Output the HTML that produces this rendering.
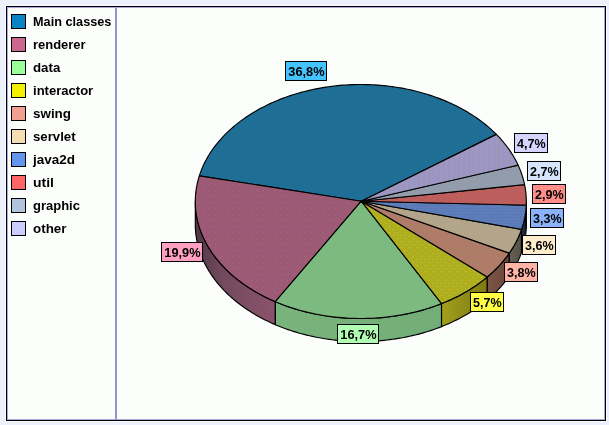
<!DOCTYPE html>
<html><head><meta charset="utf-8"><title>Pie chart</title>
<style>
html,body{margin:0;padding:0;background:#EDF1FB;}
body{width:609px;height:425px;overflow:hidden;}
svg{will-change:transform;}
svg text{font-family:"Liberation Sans",sans-serif;font-weight:bold;fill:#000;}
.lg{font-size:12px;}
.lb{font-size:12.5px;}
</style></head><body>
<svg width="609" height="425" viewBox="0 0 609 425" style="display:block">
<defs>
<linearGradient id="sg1" gradientUnits="userSpaceOnUse" x1="195.3" y1="0" x2="275.4" y2="0"><stop offset="0" stop-color="#503745"/><stop offset="0.35" stop-color="#734A5F"/><stop offset="1" stop-color="#8A536C"/></linearGradient>
<linearGradient id="sg2" gradientUnits="userSpaceOnUse" x1="275.4" y1="0" x2="441.5" y2="0"><stop offset="0" stop-color="#78B47C"/><stop offset="1" stop-color="#73AD77"/></linearGradient>
<linearGradient id="sg3" gradientUnits="userSpaceOnUse" x1="441.5" y1="0" x2="487.3" y2="0"><stop offset="0" stop-color="#A39F1C"/><stop offset="1" stop-color="#7E7A12"/></linearGradient>
<linearGradient id="sg4" gradientUnits="userSpaceOnUse" x1="487.3" y1="0" x2="509.3" y2="0"><stop offset="0" stop-color="#7E5547"/><stop offset="1" stop-color="#694539"/></linearGradient>
<linearGradient id="sg5" gradientUnits="userSpaceOnUse" x1="509.3" y1="0" x2="521.5" y2="0"><stop offset="0" stop-color="#686152"/><stop offset="1" stop-color="#545045"/></linearGradient>
<linearGradient id="sg6" gradientUnits="userSpaceOnUse" x1="521.5" y1="0" x2="526.2" y2="0"><stop offset="0" stop-color="#26344F"/><stop offset="1" stop-color="#161F33"/></linearGradient>
<linearGradient id="sg7" gradientUnits="userSpaceOnUse" x1="526.2" y1="0" x2="526.3" y2="0"><stop offset="0" stop-color="#5A2C2C"/><stop offset="1" stop-color="#5A2C2C"/></linearGradient>
<pattern id="p1" patternUnits="userSpaceOnUse" width="6" height="6"><rect width="6" height="6" fill="#9E5878"/><rect x="1" y="1" width="1" height="1" fill="#8E6256"/><rect x="4" y="1" width="1" height="1" fill="#8E6256"/><rect x="2" y="4" width="1" height="1" fill="#8E6256"/><rect x="5" y="4" width="1" height="1" fill="#A86A72"/></pattern>
<pattern id="p3" patternUnits="userSpaceOnUse" width="8" height="6"><rect width="8" height="6" fill="#AFAE1E"/><rect x="1" y="1" width="1" height="1" fill="#C3C348"/><rect x="5" y="4" width="1" height="1" fill="#C3C348"/></pattern>
<pattern id="p4" patternUnits="userSpaceOnUse" width="6" height="6"><rect width="6" height="6" fill="#AE7D65"/><rect x="1" y="1" width="1" height="1" fill="#BC7278"/><rect x="4" y="1" width="1" height="1" fill="#BC7278"/><rect x="2" y="4" width="1" height="1" fill="#BC7278"/><rect x="5" y="4" width="1" height="1" fill="#A87690"/></pattern>
<pattern id="p6" patternUnits="userSpaceOnUse" width="6" height="6"><rect width="6" height="6" fill="#5D7DBB"/><rect x="1" y="1" width="1" height="1" fill="#5270A8"/><rect x="4" y="1" width="1" height="1" fill="#5270A8"/><rect x="2" y="4" width="1" height="1" fill="#5270A8"/><rect x="5" y="4" width="1" height="1" fill="#5270A8"/></pattern>
<pattern id="p7" patternUnits="userSpaceOnUse" width="8" height="4"><rect width="8" height="4" fill="#BE5F5E"/><rect x="1" y="1" width="1" height="1" fill="#B05A5E"/><rect x="5" y="3" width="1" height="1" fill="#B05A5E"/></pattern>
<pattern id="p8" patternUnits="userSpaceOnUse" width="6" height="6"><rect width="6" height="6" fill="#949CAA"/><rect x="1" y="1" width="1" height="1" fill="#86A0C2"/><rect x="4" y="1" width="1" height="1" fill="#86A0C2"/><rect x="2" y="4" width="1" height="1" fill="#86A0C2"/><rect x="5" y="4" width="1" height="1" fill="#86A0C2"/></pattern>
<pattern id="p9" patternUnits="userSpaceOnUse" width="10" height="4"><rect width="10" height="4" fill="#9B98C8"/><rect x="1" y="1" width="1" height="1" fill="#D08A70"/><rect x="6" y="3" width="1" height="1" fill="#D08A70"/><rect x="3" y="2" width="1" height="1" fill="#9090B8"/><rect x="8" y="0" width="1" height="1" fill="#9090B8"/><rect x="4" y="0" width="1" height="1" fill="#9090B8"/><rect x="9" y="2" width="1" height="1" fill="#9090B8"/></pattern>
<pattern id="p20" patternUnits="userSpaceOnUse" width="8" height="4"><rect width="8" height="4" fill="#FF8C84"/><rect x="1" y="1" width="1" height="1" fill="#FFB0D8"/><rect x="5" y="3" width="1" height="1" fill="#FFB0D8"/></pattern>
<pattern id="p21" patternUnits="userSpaceOnUse" width="6" height="4"><rect width="6" height="4" fill="#8CB4FC"/><rect x="1" y="1" width="1" height="1" fill="#80A6EA"/><rect x="4" y="3" width="1" height="1" fill="#80A6EA"/></pattern>
</defs>
<rect width="609" height="425" fill="#EDF1FB"/>
<rect x="5.5" y="5.5" width="601" height="416" fill="none" stroke="#F9FBFE"/>
<rect x="6.5" y="6.5" width="599" height="414" fill="#FCFEFB" stroke="#000"/>
<rect x="7.5" y="7.5" width="597" height="412" fill="none" stroke="#ABA6DE"/>
<rect x="115" y="8" width="2" height="411" fill="#9893CF"/>
<g opacity="0.999">
<rect x="11.5" y="14.5" width="14" height="14" fill="#0982C6" stroke="#000"/>
<text x="33" y="26" textLength="78.4" lengthAdjust="spacingAndGlyphs" class="lg">Main classes</text>
<rect x="11.5" y="37.5" width="14" height="14" fill="#CC6690" stroke="#000"/>
<text x="33" y="49" textLength="52.5" lengthAdjust="spacingAndGlyphs" class="lg">renderer</text>
<rect x="11.5" y="60.5" width="14" height="14" fill="#99FF99" stroke="#000"/>
<text x="33" y="72" textLength="27.3" lengthAdjust="spacingAndGlyphs" class="lg">data</text>
<rect x="11.5" y="83.5" width="14" height="14" fill="#F0F000" stroke="#000"/>
<text x="33" y="95" textLength="60.2" lengthAdjust="spacingAndGlyphs" class="lg">interactor</text>
<rect x="11.5" y="106.5" width="14" height="14" fill="#F0A090" stroke="#000"/>
<text x="33" y="118" textLength="38.0" lengthAdjust="spacingAndGlyphs" class="lg">swing</text>
<rect x="11.5" y="129.5" width="14" height="14" fill="#F5DEB3" stroke="#000"/>
<text x="33" y="141" textLength="42.6" lengthAdjust="spacingAndGlyphs" class="lg">servlet</text>
<rect x="11.5" y="152.5" width="14" height="14" fill="#6495ED" stroke="#000"/>
<text x="33" y="164" textLength="42.0" lengthAdjust="spacingAndGlyphs" class="lg">java2d</text>
<rect x="11.5" y="175.5" width="14" height="14" fill="#FF6666" stroke="#000"/>
<text x="33" y="187" textLength="20.9" lengthAdjust="spacingAndGlyphs" class="lg">util</text>
<rect x="11.5" y="198.5" width="14" height="14" fill="#B0C4DE" stroke="#000"/>
<text x="33" y="210" textLength="46.9" lengthAdjust="spacingAndGlyphs" class="lg">graphic</text>
<rect x="11.5" y="221.5" width="14" height="14" fill="#CCCCFF" stroke="#000"/>
<text x="33" y="233" textLength="33.5" lengthAdjust="spacingAndGlyphs" class="lg">other</text>
</g>
<polygon points="195.30,201.50 195.33,203.57 195.40,205.65 195.53,207.72 195.72,209.79 195.95,211.86 196.24,213.92 196.57,215.98 196.96,218.04 197.40,220.09 197.89,222.14 198.44,224.17 199.03,226.21 199.68,228.23 200.37,230.24 201.12,232.25 201.91,234.25 202.76,236.23 203.66,238.21 204.60,240.17 205.60,242.12 206.64,244.06 207.73,245.99 208.87,247.90 210.06,249.80 211.29,251.68 212.58,253.55 213.90,255.39 215.28,257.23 216.70,259.04 218.16,260.84 219.68,262.62 221.23,264.38 222.83,266.12 224.47,267.84 226.16,269.53 227.88,271.21 229.65,272.87 231.46,274.50 233.31,276.11 235.21,277.69 237.14,279.26 239.11,280.79 241.11,282.31 243.16,283.79 245.24,285.26 247.36,286.69 249.51,288.10 251.70,289.48 253.93,290.83 256.18,292.16 258.47,293.46 260.80,294.72 263.15,295.96 265.53,297.17 267.95,298.35 270.39,299.50 272.86,300.62 275.36,301.70 275.36,324.70 272.86,323.62 270.39,322.50 267.95,321.35 265.53,320.17 263.15,318.96 260.80,317.72 258.47,316.46 256.18,315.16 253.93,313.83 251.70,312.48 249.51,311.10 247.36,309.69 245.24,308.26 243.16,306.79 241.11,305.31 239.11,303.79 237.14,302.26 235.21,300.69 233.31,299.11 231.46,297.50 229.65,295.87 227.88,294.21 226.16,292.53 224.47,290.84 222.83,289.12 221.23,287.38 219.68,285.62 218.16,283.84 216.70,282.04 215.28,280.23 213.90,278.39 212.58,276.55 211.29,274.68 210.06,272.80 208.87,270.90 207.73,268.99 206.64,267.06 205.60,265.12 204.60,263.17 203.66,261.21 202.76,259.23 201.91,257.25 201.12,255.25 200.37,253.24 199.68,251.23 199.03,249.21 198.44,247.17 197.89,245.14 197.40,243.09 196.96,241.04 196.57,238.98 196.24,236.92 195.95,234.86 195.72,232.79 195.53,230.72 195.40,228.65 195.33,226.57 195.30,224.50" fill="url(#sg1)" stroke="#000" stroke-width="1.15" stroke-linejoin="round"/>
<polygon points="275.36,301.70 277.86,302.75 280.39,303.76 282.93,304.74 285.51,305.69 288.10,306.61 290.72,307.49 293.36,308.35 296.02,309.16 298.70,309.95 301.40,310.70 304.12,311.42 306.85,312.11 309.60,312.76 312.37,313.38 315.15,313.96 317.95,314.51 320.76,315.02 323.58,315.50 326.42,315.95 329.26,316.36 332.11,316.73 334.97,317.07 337.85,317.37 340.72,317.64 343.61,317.87 346.49,318.06 349.39,318.22 352.28,318.35 355.18,318.43 358.08,318.48 360.99,318.50 363.89,318.48 366.79,318.42 369.69,318.33 372.58,318.20 375.48,318.04 378.37,317.84 381.25,317.60 384.12,317.33 386.99,317.03 389.86,316.68 392.71,316.30 395.55,315.89 398.38,315.44 401.20,314.96 404.01,314.44 406.80,313.89 409.59,313.30 412.35,312.68 415.10,312.02 417.83,311.33 420.55,310.61 423.25,309.85 425.92,309.06 428.58,308.24 431.22,307.38 433.83,306.49 436.43,305.57 439.00,304.62 441.54,303.63 441.54,326.63 439.00,327.62 436.43,328.57 433.83,329.49 431.22,330.38 428.58,331.24 425.92,332.06 423.25,332.85 420.55,333.61 417.83,334.33 415.10,335.02 412.35,335.68 409.59,336.30 406.80,336.89 404.01,337.44 401.20,337.96 398.38,338.44 395.55,338.89 392.71,339.30 389.86,339.68 386.99,340.03 384.12,340.33 381.25,340.60 378.37,340.84 375.48,341.04 372.58,341.20 369.69,341.33 366.79,341.42 363.89,341.48 360.99,341.50 358.08,341.48 355.18,341.43 352.28,341.35 349.39,341.22 346.49,341.06 343.61,340.87 340.72,340.64 337.85,340.37 334.97,340.07 332.11,339.73 329.26,339.36 326.42,338.95 323.58,338.50 320.76,338.02 317.95,337.51 315.15,336.96 312.37,336.38 309.60,335.76 306.85,335.11 304.12,334.42 301.40,333.70 298.70,332.95 296.02,332.16 293.36,331.35 290.72,330.49 288.10,329.61 285.51,328.69 282.93,327.74 280.39,326.76 277.86,325.75 275.36,324.70" fill="url(#sg2)" stroke="#000" stroke-width="1.15" stroke-linejoin="round"/>
<polygon points="441.54,303.63 444.13,302.59 446.69,301.51 449.23,300.40 451.74,299.26 454.21,298.08 456.66,296.88 459.07,295.64 461.46,294.37 463.81,293.07 466.13,291.75 468.41,290.39 470.66,289.01 472.87,287.59 475.05,286.15 477.19,284.68 479.29,283.19 481.35,281.66 483.37,280.11 485.36,278.54 487.30,276.94 487.30,299.94 485.36,301.54 483.37,303.11 481.35,304.66 479.29,306.19 477.19,307.68 475.05,309.15 472.87,310.59 470.66,312.01 468.41,313.39 466.13,314.75 463.81,316.07 461.46,317.37 459.07,318.64 456.66,319.88 454.21,321.08 451.74,322.26 449.23,323.40 446.69,324.51 444.13,325.59 441.54,326.63" fill="url(#sg3)" stroke="#000" stroke-width="1.15" stroke-linejoin="round"/>
<polygon points="487.30,276.94 489.28,275.25 491.21,273.54 493.09,271.80 494.93,270.04 496.73,268.25 498.47,266.44 500.17,264.60 501.81,262.75 503.41,260.87 504.96,258.97 506.46,257.05 507.90,255.11 509.30,253.16 509.30,276.16 507.90,278.11 506.46,280.05 504.96,281.97 503.41,283.87 501.81,285.75 500.17,287.60 498.47,289.44 496.73,291.25 494.93,293.04 493.09,294.80 491.21,296.54 489.28,298.25 487.30,299.94" fill="url(#sg4)" stroke="#000" stroke-width="1.15" stroke-linejoin="round"/>
<polygon points="509.30,253.16 510.59,251.25 511.83,249.34 513.03,247.40 514.18,245.46 515.27,243.49 516.32,241.52 517.31,239.53 518.26,237.53 519.15,235.51 519.99,233.49 520.78,231.45 521.52,229.41 521.52,252.41 520.78,254.45 519.99,256.49 519.15,258.51 518.26,260.53 517.31,262.53 516.32,264.52 515.27,266.49 514.18,268.46 513.03,270.40 511.83,272.34 510.59,274.25 509.30,276.16" fill="url(#sg5)" stroke="#000" stroke-width="1.15" stroke-linejoin="round"/>
<polygon points="521.52,229.41 522.19,227.42 522.80,225.43 523.37,223.42 523.89,221.41 524.35,219.40 524.77,217.38 525.14,215.35 525.45,213.32 525.72,211.29 525.94,209.25 526.10,207.22 526.22,205.18 526.22,228.18 526.10,230.22 525.94,232.25 525.72,234.29 525.45,236.32 525.14,238.35 524.77,240.38 524.35,242.40 523.89,244.41 523.37,246.42 522.80,248.43 522.19,250.42 521.52,252.41" fill="url(#sg6)" stroke="#000" stroke-width="1.15" stroke-linejoin="round"/>
<polygon points="526.22,205.18 526.30,201.50 526.30,224.50 526.22,228.18" fill="url(#sg7)" stroke="#000" stroke-width="1.15" stroke-linejoin="round"/>
<polygon points="361.30,201.20 496.37,134.39 494.69,132.72 492.96,131.08 491.20,129.45 489.40,127.85 487.56,126.27 485.67,124.72 483.75,123.18 481.80,121.67 479.80,120.19 477.77,118.73 475.71,117.30 473.60,115.89 471.47,114.50 469.30,113.15 467.09,111.82 464.86,110.52 462.59,109.25 460.29,108.00 457.96,106.78 455.60,105.60 453.21,104.44 450.80,103.31 448.35,102.21 445.88,101.14 443.38,100.11 440.86,99.10 438.31,98.13 435.74,97.18 433.15,96.27 430.54,95.39 427.90,94.55 425.24,93.73 422.56,92.95 419.87,92.21 417.15,91.49 414.42,90.81 411.67,90.16 408.91,89.55 406.13,88.97 403.34,88.43 400.53,87.92 397.72,87.45 394.89,87.01 392.05,86.60 389.20,86.24 386.34,85.90 383.48,85.60 380.60,85.34 377.73,85.11 374.84,84.92 371.96,84.77 369.06,84.65 366.17,84.56 363.27,84.51 360.38,84.50 357.48,84.52 354.59,84.58 351.69,84.68 348.80,84.81 345.92,84.97 343.04,85.18 340.16,85.41 337.29,85.69 334.43,86.00 331.57,86.34 328.73,86.72 325.89,87.13 323.06,87.58 320.25,88.07 317.45,88.59 314.66,89.14 311.89,89.73 309.13,90.35 306.38,91.01 303.66,91.70 300.95,92.42 298.26,93.18 295.58,93.97 292.93,94.79 290.30,95.65 287.69,96.53 285.11,97.45 282.54,98.41 280.00,99.39 277.49,100.41 275.00,101.45 272.53,102.53 270.10,103.64 267.69,104.77 265.31,105.94 262.96,107.14 260.64,108.36 258.35,109.61 256.09,110.90 253.86,112.20 251.67,113.54 249.51,114.90 247.38,116.29 245.29,117.71 243.23,119.15 241.21,120.62 239.23,122.11 237.28,123.63 235.37,125.17 233.50,126.73 231.67,128.32 229.88,129.93 228.13,131.56 226.42,133.21 224.75,134.88 223.12,136.57 221.53,138.29 219.99,140.02 218.49,141.77 217.03,143.54 215.62,145.33 214.25,147.13 212.93,148.95 211.65,150.79 210.42,152.64 209.23,154.51 208.09,156.39 207.00,158.29 205.95,160.20 204.96,162.12 204.01,164.05 203.10,166.00 202.25,167.96 201.44,169.92 200.68,171.90 199.98,173.88 199.32,175.88" fill="#1E6E96" stroke="#000" stroke-width="1.15" stroke-linejoin="round"/>
<polygon points="361.30,201.20 199.32,175.88 198.70,177.89 198.14,179.91 197.63,181.94 197.17,183.97 196.76,186.01 196.40,188.05 196.09,190.10 195.83,192.15 195.62,194.20 195.47,196.25 195.36,198.31 195.31,200.37 195.31,202.43 195.35,204.49 195.45,206.54 195.60,208.60 195.81,210.65 196.06,212.70 196.36,214.75 196.72,216.79 197.13,218.83 197.58,220.86 198.09,222.89 198.65,224.91 199.25,226.92 199.91,228.93 200.62,230.93 201.38,232.91 202.18,234.89 203.04,236.86 203.94,238.82 204.90,240.76 205.90,242.69 206.95,244.61 208.04,246.52 209.19,248.41 210.38,250.29 211.62,252.16 212.90,254.00 214.23,255.83 215.60,257.65 217.02,259.45 218.49,261.23 220.00,262.99 221.55,264.73 223.14,266.45 224.78,268.15 226.46,269.83 228.18,271.49 229.94,273.13 231.75,274.75 233.59,276.34 235.47,277.91 237.39,279.46 239.35,280.98 241.35,282.48 243.38,283.95 245.45,285.40 247.56,286.82 249.70,288.22 251.87,289.59 254.08,290.93 256.32,292.24 258.60,293.53 260.90,294.78 263.24,296.01 265.61,297.21 268.00,298.38 270.43,299.52 272.88,300.63 275.36,301.70" fill="url(#p1)" stroke="#000" stroke-width="1.15" stroke-linejoin="round"/>
<polygon points="361.30,201.20 275.36,301.70 277.86,302.75 280.39,303.76 282.93,304.74 285.51,305.69 288.10,306.61 290.72,307.49 293.36,308.35 296.02,309.16 298.70,309.95 301.40,310.70 304.12,311.42 306.85,312.11 309.60,312.76 312.37,313.38 315.15,313.96 317.95,314.51 320.76,315.02 323.58,315.50 326.42,315.95 329.26,316.36 332.11,316.73 334.97,317.07 337.85,317.37 340.72,317.64 343.61,317.87 346.49,318.06 349.39,318.22 352.28,318.35 355.18,318.43 358.08,318.48 360.99,318.50 363.89,318.48 366.79,318.42 369.69,318.33 372.58,318.20 375.48,318.04 378.37,317.84 381.25,317.60 384.12,317.33 386.99,317.03 389.86,316.68 392.71,316.30 395.55,315.89 398.38,315.44 401.20,314.96 404.01,314.44 406.80,313.89 409.59,313.30 412.35,312.68 415.10,312.02 417.83,311.33 420.55,310.61 423.25,309.85 425.92,309.06 428.58,308.24 431.22,307.38 433.83,306.49 436.43,305.57 439.00,304.62 441.54,303.63" fill="#7DBA80" stroke="#000" stroke-width="1.15" stroke-linejoin="round"/>
<polygon points="361.30,201.20 441.54,303.63 444.13,302.59 446.69,301.51 449.23,300.40 451.74,299.26 454.21,298.08 456.66,296.88 459.07,295.64 461.46,294.37 463.81,293.07 466.13,291.75 468.41,290.39 470.66,289.01 472.87,287.59 475.05,286.15 477.19,284.68 479.29,283.19 481.35,281.66 483.37,280.11 485.36,278.54 487.30,276.94" fill="url(#p3)" stroke="#000" stroke-width="1.15" stroke-linejoin="round"/>
<polygon points="361.30,201.20 487.30,276.94 489.28,275.25 491.21,273.54 493.09,271.80 494.93,270.04 496.73,268.25 498.47,266.44 500.17,264.60 501.81,262.75 503.41,260.87 504.96,258.97 506.46,257.05 507.90,255.11 509.30,253.16" fill="url(#p4)" stroke="#000" stroke-width="1.15" stroke-linejoin="round"/>
<polygon points="361.30,201.20 509.30,253.16 510.59,251.25 511.83,249.34 513.03,247.40 514.18,245.46 515.27,243.49 516.32,241.52 517.31,239.53 518.26,237.53 519.15,235.51 519.99,233.49 520.78,231.45 521.52,229.41" fill="#B3A58A" stroke="#000" stroke-width="1.15" stroke-linejoin="round"/>
<polygon points="361.30,201.20 521.52,229.41 522.19,227.42 522.80,225.43 523.37,223.42 523.89,221.41 524.35,219.40 524.77,217.38 525.14,215.35 525.45,213.32 525.72,211.29 525.94,209.25 526.10,207.22 526.22,205.18" fill="url(#p6)" stroke="#000" stroke-width="1.15" stroke-linejoin="round"/>
<polygon points="361.30,201.20 526.22,205.18 526.28,203.11 526.30,201.05 526.26,198.99 526.17,196.93 526.03,194.87 525.84,192.81 525.60,190.75 525.31,188.70 524.96,186.65 524.57,184.61" fill="url(#p7)" stroke="#000" stroke-width="1.15" stroke-linejoin="round"/>
<polygon points="361.30,201.20 524.57,184.61 524.08,182.41 523.54,180.22 522.94,178.04 522.28,175.87 521.56,173.70 520.78,171.55 519.95,169.40 519.06,167.27 518.11,165.15" fill="url(#p8)" stroke="#000" stroke-width="1.15" stroke-linejoin="round"/>
<polygon points="361.30,201.20 518.11,165.15 517.14,163.11 516.11,161.08 515.03,159.06 513.89,157.06 512.71,155.07 511.47,153.10 510.19,151.14 508.85,149.20 507.46,147.28 506.02,145.38 504.53,143.50 502.99,141.63 501.41,139.79 499.78,137.97 498.10,136.17 496.37,134.39" fill="url(#p9)" stroke="#000" stroke-width="1.15" stroke-linejoin="round"/>
<g opacity="0.999">
<rect x="285.5" y="61.5" width="41" height="19" fill="#45C3FF" stroke="#000"/>
<text x="288.3" y="76" textLength="36.2" lengthAdjust="spacingAndGlyphs" class="lb">36,8%</text>
<rect x="161.5" y="242.5" width="41" height="19" fill="#FFA0C3" stroke="#000"/>
<text x="164.3" y="257" textLength="36.2" lengthAdjust="spacingAndGlyphs" class="lb">19,9%</text>
<rect x="337.5" y="324.5" width="41" height="19" fill="#B0FCB2" stroke="#000"/>
<text x="340.3" y="339" textLength="36.2" lengthAdjust="spacingAndGlyphs" class="lb">16,7%</text>
<rect x="470.5" y="292.5" width="33" height="19" fill="#FFFF45" stroke="#000"/>
<text x="473.1" y="307" textLength="28.6" lengthAdjust="spacingAndGlyphs" class="lb">5,7%</text>
<rect x="504.5" y="262.5" width="33" height="19" fill="#FFB4A5" stroke="#000"/>
<text x="507.1" y="277" textLength="28.6" lengthAdjust="spacingAndGlyphs" class="lb">3,8%</text>
<rect x="522.5" y="235.5" width="33" height="19" fill="#FFECCC" stroke="#000"/>
<text x="525.1" y="250" textLength="28.6" lengthAdjust="spacingAndGlyphs" class="lb">3,6%</text>
<rect x="530.5" y="208.5" width="33" height="19" fill="url(#p21)" stroke="#000"/>
<text x="533.1" y="223" textLength="28.6" lengthAdjust="spacingAndGlyphs" class="lb">3,3%</text>
<rect x="532.5" y="184.5" width="33" height="19" fill="url(#p20)" stroke="#000"/>
<text x="535.1" y="199" textLength="28.6" lengthAdjust="spacingAndGlyphs" class="lb">2,9%</text>
<rect x="527.5" y="161.5" width="33" height="19" fill="#D6E4FC" stroke="#000"/>
<text x="530.1" y="176" textLength="28.6" lengthAdjust="spacingAndGlyphs" class="lb">2,7%</text>
<rect x="514.5" y="133.5" width="33" height="19" fill="#D6D4FF" stroke="#000"/>
<text x="517.1" y="148" textLength="28.6" lengthAdjust="spacingAndGlyphs" class="lb">4,7%</text>
</g>
</svg>
</body></html>
